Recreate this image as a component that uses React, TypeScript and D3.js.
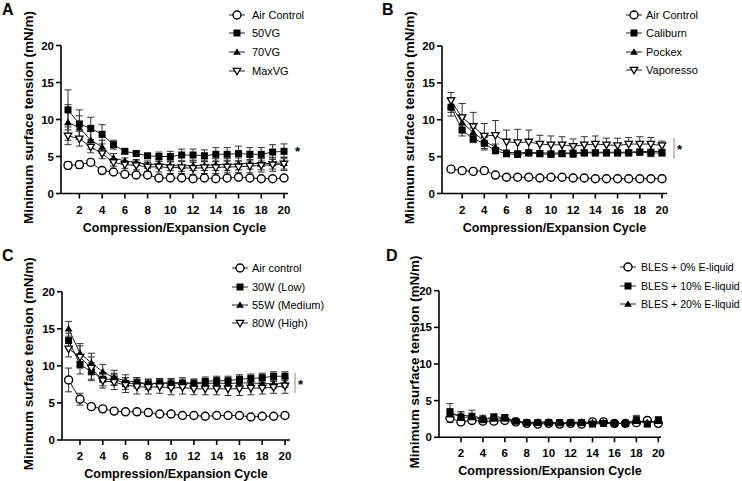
import React from "react";
import * as d3 from "d3";

// cycles and ticks
const cycles = [1, 2, 3, 4, 5, 6, 7, 8, 9, 10, 11, 12, 13, 14, 15, 16, 17, 18, 19, 20];
const xTicks = [2, 4, 6, 8, 10, 12, 14, 16, 18, 20];
const yTicks = [0, 5, 10, 15, 20];

// panel A
const aAir = [3.8, 3.9, 4.2, 3.1, 2.9, 2.6, 2.5, 2.5, 2.1, 2.1, 2.1, 2.0, 2.1, 2.0, 2.1, 2.2, 2.1, 2.0, 2.0, 2.1];
const aAirErr = [0.5, 0.5, 0.3, 0.2, 0.2, 0.2, 0.2, 0.2, 0.2, 0.2, 0.2, 0.2, 0.2, 0.2, 0.2, 0.3, 0.2, 0.2, 0.2, 0.2];
const a50 = [11.3, 9.4, 8.8, 8.0, 6.6, 5.7, 5.4, 5.1, 5.0, 5.0, 5.2, 5.2, 5.1, 5.3, 5.3, 5.4, 5.3, 5.3, 5.6, 5.7];
const a50Err = [2.7, 1.9, 1.5, 1.3, 0.6, 0.3, 0.3, 0.3, 0.6, 0.7, 0.8, 0.8, 0.8, 0.9, 0.9, 1.0, 0.9, 0.9, 1.0, 1.0];
const a70 = [9.6, 8.9, 7.2, 6.3, 4.8, 4.4, 4.2, 3.9, 4.0, 3.8, 3.7, 3.8, 3.8, 3.9, 3.9, 4.0, 4.1, 4.0, 4.1, 4.1];
const a70Err = [2.4, 1.6, 1.2, 0.9, 0.6, 0.4, 0.4, 0.5, 0.6, 0.7, 0.7, 0.7, 0.7, 0.8, 0.8, 0.8, 0.8, 0.8, 0.8, 0.8];
const aMax = [7.8, 7.4, 6.3, 5.4, 4.2, 3.9, 3.8, 3.6, 3.6, 3.5, 3.5, 3.4, 3.5, 3.5, 3.6, 3.6, 3.7, 3.8, 3.9, 4.0];
const aMaxErr = [1.2, 1.0, 0.8, 0.7, 0.5, 0.5, 0.6, 0.6, 0.7, 0.8, 0.8, 0.8, 0.8, 0.8, 0.8, 0.8, 0.9, 0.9, 0.9, 0.9];

// panel B
const bAir = [3.3, 3.1, 3.0, 3.1, 2.5, 2.2, 2.2, 2.2, 2.1, 2.2, 2.2, 2.1, 2.1, 2.0, 2.0, 2.0, 2.0, 2.0, 2.0, 2.0];
const bAirErr = [0.15, 0.15, 0.15, 0.15, 0.15, 0.15, 0.15, 0.15, 0.15, 0.15, 0.15, 0.15, 0.15, 0.15, 0.15, 0.15, 0.15, 0.15, 0.15, 0.15];
const bCal = [11.7, 8.6, 7.4, 6.8, 5.8, 5.4, 5.3, 5.5, 5.4, 5.3, 5.4, 5.4, 5.5, 5.5, 5.5, 5.5, 5.5, 5.6, 5.5, 5.5];
const bCalErr = [1.2, 0.8, 0.5, 0.9, 0.4, 0.4, 0.3, 0.4, 0.4, 0.3, 0.4, 0.5, 0.4, 0.4, 0.4, 0.4, 0.4, 0.4, 0.5, 0.4];
const bPock = [12.0, 9.6, 8.3, 7.1, 6.3, 5.6, 5.5, 5.6, 5.5, 5.5, 5.5, 5.5, 5.6, 5.6, 5.6, 5.6, 5.6, 5.7, 5.7, 5.7];
const bPockErr = [1.0, 0.8, 0.6, 0.5, 0.4, 0.3, 0.3, 0.3, 0.3, 0.3, 0.3, 0.3, 0.3, 0.3, 0.3, 0.3, 0.3, 0.3, 0.3, 0.3];
const bVap = [12.6, 10.3, 9.1, 7.8, 7.9, 7.0, 6.9, 7.0, 6.7, 6.6, 6.6, 6.4, 6.6, 6.7, 6.6, 6.5, 6.7, 6.7, 6.7, 6.5];
const bVapErr = [1.1, 1.9, 1.9, 1.7, 2.0, 1.6, 1.8, 1.6, 1.2, 1.2, 1.1, 1.0, 1.1, 1.1, 0.9, 1.0, 0.9, 1.0, 0.9, 0.6];

// panel C
const cAir = [8.1, 5.5, 4.5, 4.2, 3.9, 3.8, 3.8, 3.7, 3.5, 3.5, 3.3, 3.3, 3.2, 3.3, 3.3, 3.3, 3.1, 3.2, 3.2, 3.3];
const cAirErr = [1.6, 0.8, 0.3, 0.2, 0.2, 0.2, 0.2, 0.2, 0.2, 0.2, 0.2, 0.2, 0.2, 0.2, 0.2, 0.2, 0.2, 0.2, 0.2, 0.2];
const c30 = [13.4, 10.2, 9.2, 8.2, 8.2, 7.6, 7.7, 7.5, 7.7, 7.6, 7.6, 7.6, 7.9, 8.0, 8.0, 8.2, 8.3, 8.4, 8.6, 8.6];
const c30Err = [1.0, 1.3, 1.2, 0.9, 0.8, 0.8, 0.7, 0.7, 0.6, 0.6, 0.6, 0.6, 0.6, 0.6, 0.6, 0.6, 0.6, 0.6, 0.6, 0.6];
const c55 = [15.0, 11.7, 10.4, 9.2, 8.4, 8.0, 7.8, 7.6, 7.7, 7.7, 7.8, 7.6, 7.6, 7.7, 7.6, 7.7, 7.7, 7.6, 7.6, 7.7];
const c55Err = [1.0, 1.3, 1.3, 1.0, 1.0, 0.8, 0.6, 0.6, 0.6, 0.6, 0.6, 0.6, 0.6, 0.6, 0.6, 0.6, 0.6, 0.6, 0.6, 0.6];
const c80 = [12.3, 11.2, 9.7, 8.0, 7.8, 7.4, 7.2, 7.1, 7.2, 7.0, 7.1, 6.9, 6.9, 6.9, 6.9, 6.9, 7.0, 7.0, 7.1, 7.3];
const c80Err = [1.1, 1.5, 1.5, 1.0, 1.0, 1.0, 1.0, 0.9, 0.9, 0.9, 0.9, 0.8, 0.8, 0.8, 0.9, 0.9, 0.9, 0.8, 0.8, 1.0];

// panel D
const d0 = [2.6, 2.1, 2.3, 2.2, 2.2, 2.3, 2.1, 1.9, 1.8, 1.9, 1.8, 1.9, 1.8, 2.1, 2.1, 1.9, 1.9, 2.0, 2.3, 1.9];
const d0Err = [0.6, 0.3, 0.3, 0.3, 0.3, 0.3, 0.2, 0.2, 0.2, 0.2, 0.2, 0.2, 0.2, 0.2, 0.3, 0.2, 0.2, 0.3, 0.2, 0.2];
const d10 = [3.5, 2.7, 2.8, 2.4, 2.8, 2.7, 2.2, 2.0, 2.0, 2.0, 2.0, 2.0, 2.0, 1.8, 1.9, 1.9, 1.9, 2.4, 1.8, 2.4];
const d10Err = [1.1, 0.6, 0.5, 0.3, 0.3, 0.3, 0.2, 0.2, 0.2, 0.2, 0.2, 0.2, 0.2, 0.2, 0.2, 0.2, 0.2, 0.6, 0.2, 0.3];
const d20 = [3.1, 3.0, 2.9, 2.6, 2.5, 2.5, 2.2, 2.0, 2.1, 2.1, 1.9, 2.0, 2.1, 2.0, 2.0, 1.9, 1.9, 2.2, 2.0, 2.2];
const d20Err = [0.5, 0.5, 0.8, 0.4, 0.3, 0.3, 0.2, 0.2, 0.2, 0.2, 0.2, 0.2, 0.2, 0.2, 0.2, 0.2, 0.2, 0.3, 0.2, 0.2];

type Shape = "circle" | "square" | "triangle" | "down";
type Series = { name: string; shape: Shape; values: number[]; err: number[] };

const seriesA: Series[] = [
  { name: "Air Control", shape: "circle", values: aAir, err: aAirErr },
  { name: "50VG", shape: "square", values: a50, err: a50Err },
  { name: "70VG", shape: "triangle", values: a70, err: a70Err },
  { name: "MaxVG", shape: "down", values: aMax, err: aMaxErr },
];
const seriesB: Series[] = [
  { name: "Air Control", shape: "circle", values: bAir, err: bAirErr },
  { name: "Caliburn", shape: "square", values: bCal, err: bCalErr },
  { name: "Pockex", shape: "triangle", values: bPock, err: bPockErr },
  { name: "Vaporesso", shape: "down", values: bVap, err: bVapErr },
];
const seriesC: Series[] = [
  { name: "Air control", shape: "circle", values: cAir, err: cAirErr },
  { name: "30W (Low)", shape: "square", values: c30, err: c30Err },
  { name: "55W (Medium)", shape: "triangle", values: c55, err: c55Err },
  { name: "80W (High)", shape: "down", values: c80, err: c80Err },
];
const seriesD: Series[] = [
  { name: "BLES + 0% E-liquid", shape: "circle", values: d0, err: d0Err },
  { name: "BLES + 10% E-liquid", shape: "square", values: d10, err: d10Err },
  { name: "BLES + 20% E-liquid", shape: "triangle", values: d20, err: d20Err },
];

const FONT = "'Liberation Sans', Arial, Helvetica, sans-serif";

const triUp = d3.symbol().type(d3.symbolTriangle).size(26)()!;
const triDown = d3.symbol().type(d3.symbolTriangle).size(24)()!;

const Marker = ({ shape, x, y }: { shape: Shape; x: number; y: number }) => {
  if (shape === "circle")
    return <circle cx={x} cy={y} r={4} fill="#fff" stroke="#000" strokeWidth={1.4} />;
  if (shape === "square")
    return <rect x={x - 3.5} y={y - 3.5} width={7} height={7} fill="#000" />;
  if (shape === "triangle")
    return <path d={triUp} transform={`translate(${x},${y + 0.6})`} fill="#000" />;
  return (
    <path d={triDown} transform={`translate(${x},${y - 0.5}) rotate(180)`} fill="#fff" stroke="#000" strokeWidth={1.3} />
  );
};

type PanelProps = {
  letter: string; lx: number; ly: number;
  left: number; right: number; top: number; bottom: number;
  c1: number; c20: number; titleX: number;
  legX: number; textX: number; rows: number[]; legSize?: number;
  star?: { x: number; y: number }; bracket?: { x: number; y1: number; y2: number };
  series: Series[];
};

const Panel = (p: PanelProps) => {
  const x = d3.scaleLinear().domain([1, 20]).range([p.c1, p.c20]);
  const y = d3.scaleLinear().domain([0, 20]).range([p.bottom, p.top]);
  const line = d3.line<number>().x((_, i) => x(cycles[i])).y((d) => y(d));
  const midX = (p.left + p.right) / 2;
  const midY = (p.top + p.bottom) / 2;
  return (
    <g fontFamily={FONT}>
      <text x={p.lx} y={p.ly} fontSize={16} fontWeight="bold">{p.letter}</text>
      {/* error bars */}
      {p.series.map((s) =>
        s.values.map((v, i) => {
          const cx = x(cycles[i]);
          const y1 = y(v + s.err[i]);
          const y2 = y(v - s.err[i]);
          return (
            <g key={s.name + i} stroke="#333" strokeWidth={1}>
              <line x1={cx} x2={cx} y1={y1} y2={y2} />
              <line x1={cx - 3.5} x2={cx + 3.5} y1={y1} y2={y1} />
              <line x1={cx - 3.5} x2={cx + 3.5} y1={y2} y2={y2} />
            </g>
          );
        })
      )}
      {p.series.map((s) => (
        <path key={s.name} d={line(s.values)!} fill="none" stroke="#222" strokeWidth={1} />
      ))}
      {p.series.map((s) =>
        s.values.map((v, i) => <Marker key={s.name + "m" + i} shape={s.shape} x={x(cycles[i])} y={y(v)} />)
      )}
      {/* axes */}
      <line x1={p.left} x2={p.left} y1={p.top} y2={p.bottom} stroke="#000" strokeWidth={1.6} />
      <line x1={p.left} x2={p.right} y1={p.bottom} y2={p.bottom} stroke="#000" strokeWidth={1.6} />
      {yTicks.map((t) => (
        <g key={"y" + t}>
          <line x1={p.left - 5} x2={p.left} y1={y(t)} y2={y(t)} stroke="#000" strokeWidth={1.6} />
          <text x={p.left - 7} y={y(t) + 4} textAnchor="end" fontSize={11.5} fontWeight="bold">{t}</text>
        </g>
      ))}
      {xTicks.map((t) => (
        <g key={"x" + t}>
          <line x1={x(t)} x2={x(t)} y1={p.bottom} y2={p.bottom + 5} stroke="#000" strokeWidth={1.6} />
          <text x={x(t)} y={p.bottom + 20} textAnchor="middle" fontSize={11.5} fontWeight="bold">{t}</text>
        </g>
      ))}
      <text x={midX} y={p.bottom + 38} textAnchor="middle" fontSize={12.5} fontWeight="bold">
        Compression/Expansion Cycle
      </text>
      <text
        transform={`translate(${p.titleX},${midY - 2}) rotate(-90)`}
        textAnchor="middle" fontSize={13.5} fontWeight="bold" dy="0.35em"
      >
        Minimum surface tension (mN/m)
      </text>
      {/* legend */}
      {p.series.map((s, i) => (
        <g key={"leg" + s.name}>
          <line x1={p.legX - 8} x2={p.legX + 8} y1={p.rows[i]} y2={p.rows[i]} stroke="#222" strokeWidth={1} />
          <Marker shape={s.shape} x={p.legX} y={p.rows[i]} />
          <text x={p.textX} y={p.rows[i] + 4} fontSize={p.legSize ?? 11}>{s.name}</text>
        </g>
      ))}
      {p.bracket && (
        <line x1={p.bracket.x} x2={p.bracket.x} y1={p.bracket.y1} y2={p.bracket.y2} stroke="#888" strokeWidth={1} />
      )}
      {p.star && <text x={p.star.x} y={p.star.y + 6} fontSize={13} fontWeight="bold">*</text>}
    </g>
  );
};

export default function App() {
  return (
    <svg width={742} height={481} style={{ position: "absolute", left: 0, top: 0, background: "#fff" }}>
      <Panel letter="A" lx={2} ly={15} left={61} right={288} top={45.5} bottom={193.5} c1={68} c20={284}
        titleX={28} legX={237} textX={252} rows={[15, 33, 52, 71]} star={{ x: 295, y: 150 }} series={seriesA} />
      <Panel letter="B" lx={382} ly={15} left={442} right={667} top={46} bottom={193.5} c1={451} c20={662}
        titleX={409} legX={634} textX={646} rows={[15, 33, 52, 70]} star={{ x: 677, y: 148 }}
        bracket={{ x: 674, y1: 138, y2: 159 }} series={seriesB} />
      <Panel letter="C" lx={2} ly={261} left={62} right={290} top={291.7} bottom={440} c1={68.6} c20={285}
        titleX={28} legX={240} textX={252} rows={[268, 287, 305, 323]} star={{ x: 298, y: 383 }}
        bracket={{ x: 295, y1: 373, y2: 393 }} series={seriesC} />
      <Panel letter="D" lx={386} ly={261} left={439} right={661} top={290.7} bottom={437.3} c1={450} c20={658.3}
        titleX={414} legX={628} textX={641} legSize={10.6} rows={[267, 286, 304]} series={seriesD} />
    </svg>
  );
}
